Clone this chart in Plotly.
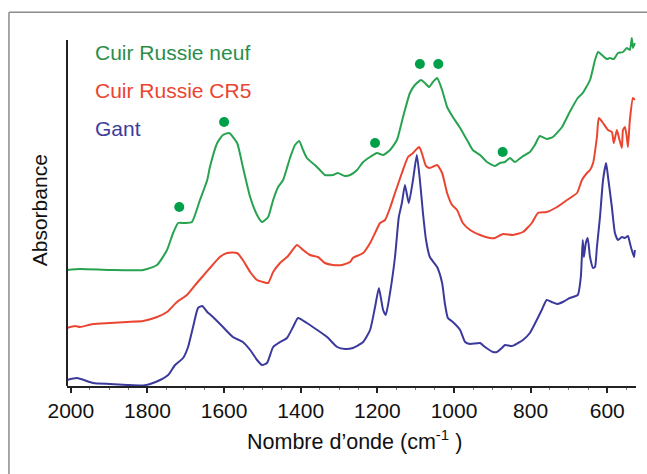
import plotly.graph_objects as go

# FTIR spectra (2000-525 cm-1), absorbance in arbitrary units, curves offset vertically
wn_neuf = [2010, 1976, 1898, 1811, 1775, 1749, 1733, 1720, 1702, 1684, 1663, 1644, 1637, 1618,
           1603, 1587, 1566, 1551, 1532, 1514, 1501, 1485, 1472, 1459, 1446, 1428, 1415, 1404,
           1394, 1384, 1363, 1350, 1337, 1316, 1303, 1285, 1271, 1253, 1237, 1219, 1201, 1185,
           1167, 1149, 1133, 1115, 1102, 1086, 1076, 1065, 1055, 1044, 1031, 1018, 1003, 984,
           966, 951, 932, 914, 893, 880, 867, 854, 841, 823, 802, 789, 776, 758, 742, 718, 698,
           677, 664, 645, 632, 624, 614, 601, 593, 583, 572, 559, 549, 541, 536, 533, 528]
abs_neuf = [1.16, 1.17, 1.16, 1.16, 1.21, 1.36, 1.53, 1.63, 1.63, 1.64, 1.86, 2.06, 2.19, 2.43,
            2.51, 2.53, 2.43, 2.19, 1.89, 1.71, 1.64, 1.69, 1.86, 1.99, 2.06, 2.28, 2.41, 2.45,
            2.36, 2.28, 2.21, 2.16, 2.11, 2.11, 2.13, 2.10, 2.11, 2.16, 2.24, 2.29, 2.33, 2.31,
            2.36, 2.46, 2.69, 2.93, 3.01, 3.06, 3.03, 2.99, 3.04, 3.08, 2.96, 2.79, 2.69, 2.58,
            2.46, 2.36, 2.31, 2.24, 2.20, 2.23, 2.24, 2.28, 2.24, 2.29, 2.34, 2.41, 2.50, 2.47,
            2.49, 2.59, 2.74, 2.88, 2.93, 3.06, 3.26, 3.34, 3.31, 3.27, 3.28, 3.27, 3.33, 3.34,
            3.38, 3.36, 3.48, 3.38, 3.43]

wn_cr5 = [2010, 1989, 1976, 1942, 1898, 1853, 1811, 1775, 1749, 1723, 1697, 1671, 1655, 1637,
          1611, 1592, 1566, 1551, 1532, 1514, 1498, 1485, 1472, 1454, 1433, 1410, 1394, 1376,
          1355, 1337, 1316, 1292, 1271, 1264, 1237, 1219, 1206, 1193, 1180, 1167, 1154, 1136,
          1120, 1107, 1091, 1084, 1073, 1063, 1044, 1031, 1018, 1005, 992, 977, 958, 932, 906,
          893, 872, 846, 820, 797, 781, 758, 731, 705, 679, 666, 653, 645, 637, 627, 622, 611,
          598, 588, 583, 575, 570, 562, 559, 554, 549, 546, 541, 533, 528]
abs_cr5 = [0.58, 0.60, 0.59, 0.62, 0.63, 0.64, 0.65, 0.69, 0.74, 0.84, 0.91, 1.03, 1.10, 1.18,
           1.29, 1.33, 1.33, 1.26, 1.14, 1.06, 1.04, 1.03, 1.14, 1.23, 1.30, 1.41, 1.36, 1.31,
           1.29, 1.23, 1.21, 1.21, 1.24, 1.28, 1.33, 1.43, 1.53, 1.63, 1.66, 1.78, 1.93, 2.13,
           2.29, 2.33, 2.39, 2.33, 2.20, 2.18, 2.21, 2.13, 1.93, 1.81, 1.76, 1.63, 1.56, 1.51,
           1.48, 1.48, 1.52, 1.51, 1.54, 1.63, 1.73, 1.74, 1.79, 1.86, 1.93, 2.06, 2.13, 2.16,
           2.23, 2.49, 2.68, 2.63, 2.56, 2.54, 2.43, 2.56, 2.49, 2.38, 2.56, 2.59, 2.49, 2.39,
           2.66, 2.88, 2.86]

wn_gant = [2010, 1984, 1942, 1898, 1853, 1811, 1793, 1767, 1746, 1728, 1707, 1694, 1681, 1668,
           1657, 1644, 1629, 1603, 1577, 1551, 1532, 1514, 1501, 1488, 1472, 1454, 1436, 1420,
           1407, 1384, 1357, 1331, 1305, 1284, 1264, 1237, 1219, 1206, 1196, 1185, 1178, 1167,
           1154, 1144, 1136, 1128, 1118, 1107, 1097, 1089, 1081, 1073, 1063, 1044, 1031, 1024,
           1016, 1003, 984, 971, 958, 932, 919, 898, 888, 875, 867, 849, 833, 820, 802, 784,
           771, 758, 745, 731, 716, 698, 677, 669, 664, 661, 656, 651, 645, 637, 632, 627, 619,
           611, 603, 598, 588, 580, 572, 562, 554, 546, 541, 536, 530, 528]
abs_gant = [0.06, 0.08, 0.03, 0.02, 0.01, 0.005, 0.02, 0.06, 0.11, 0.21, 0.28, 0.39, 0.59, 0.78,
            0.80, 0.74, 0.69, 0.59, 0.49, 0.44, 0.36, 0.26, 0.21, 0.23, 0.39, 0.44, 0.48, 0.59,
            0.68, 0.63, 0.56, 0.49, 0.39, 0.37, 0.38, 0.44, 0.56, 0.79, 0.98, 0.76, 0.71, 0.93,
            1.29, 1.69, 1.83, 2.01, 1.83, 2.06, 2.31, 2.06, 1.73, 1.46, 1.29, 1.19, 1.03, 0.83,
            0.68, 0.64, 0.56, 0.44, 0.42, 0.43, 0.39, 0.34, 0.34, 0.38, 0.41, 0.40, 0.43, 0.46,
            0.53, 0.66, 0.76, 0.86, 0.84, 0.82, 0.84, 0.88, 0.91, 1.09, 1.46, 1.29, 1.43, 1.48,
            1.29, 1.18, 1.19, 1.39, 1.69, 2.06, 2.23, 2.09, 1.79, 1.53, 1.46, 1.49, 1.48, 1.50,
            1.43, 1.36, 1.29, 1.36]

# Characteristic bands flagged on the new leather spectrum
band_wn = [1717, 1600, 1206, 1089, 1041, 873]
band_abs = [1.79, 2.64, 2.43, 3.22, 3.22, 2.34]

labels = ["Cuir Russie neuf", "Cuir Russie CR5", "Gant"]
line_colors = ["#27a350", "#ea4530", "#3b3a9c"]
text_colors = ["#2b8e4a", "#ea4530", "#3d3c9c"]

xticks = [2000, 1800, 1600, 1400, 1200, 1000, 800, 600]

FONT = "Arial, Liberation Sans, Helvetica, sans-serif"

fig = go.Figure()
for wn, ab, col in [(wn_neuf, abs_neuf, line_colors[0]),
                    (wn_cr5, abs_cr5, line_colors[1]),
                    (wn_gant, abs_gant, line_colors[2])]:
    fig.add_trace(go.Scatter(x=wn, y=ab, mode="lines",
                             line=dict(color=col, width=2, shape="spline", smoothing=0.5),
                             showlegend=False, hoverinfo="skip"))

fig.add_trace(go.Scatter(x=band_wn, y=band_abs, mode="markers",
                         marker=dict(color="#00a04a", size=10, line=dict(width=0)),
                         showlegend=False, hoverinfo="skip"))

# series labels
for i, (lab, col) in enumerate(zip(labels, text_colors)):
    fig.add_annotation(text=lab, xref="paper", yref="paper", x=0.045, y=0.938 - i * 0.107,
                       xanchor="left", yanchor="middle", showarrow=False,
                       font=dict(family=FONT, size=21, color=col))

# axis titles
fig.add_annotation(text="Nombre d’onde (cm<sup>-1</sup> )", xref="paper", yref="paper",
                   x=0.506, y=-0.152, xanchor="center", yanchor="middle", showarrow=False,
                   font=dict(family=FONT, size=21.5, color="#111111"))
fig.add_annotation(text="Absorbance", xref="paper", yref="paper", x=-0.049, y=0.494,
                   textangle=-90, xanchor="center", yanchor="middle", showarrow=False,
                   font=dict(family=FONT, size=21, color="#111111"))

# vertical axis line and outer frame
fig.add_shape(type="line", xref="paper", yref="paper", x0=0, x1=0, y0=0, y1=0.972,
              line=dict(color="#222222", width=2))
fig.add_shape(type="line", xref="paper", yref="paper", x0=-0.102, x1=-0.102, y0=-0.3, y1=1.05,
              line=dict(color="#8c8c8c", width=1.5))
fig.add_shape(type="line", xref="paper", yref="paper", x0=-0.102, x1=1.1, y0=1.05, y1=1.05,
              line=dict(color="#8c8c8c", width=1.5))

fig.update_layout(
    width=647, height=474,
    margin=dict(l=67, r=11, t=30, b=88),
    paper_bgcolor="white", plot_bgcolor="white",
    xaxis=dict(range=[2010, 525], tickvals=xticks, ticktext=[str(t) for t in xticks],
               showgrid=False, zeroline=False, showline=True, linecolor="#222222", linewidth=2,
               ticks="outside", ticklen=5, tickwidth=1.5, tickcolor="#222222",
               tickfont=dict(family=FONT, size=21, color="#111111"),
               minor=dict(dtick=50, tick0=0, ticks="outside", ticklen=2, tickwidth=1,
                          tickcolor="#777777")),
    yaxis=dict(range=[0, 3.56], showgrid=False, zeroline=False, showline=False,
               showticklabels=False, ticks=""),
)

fig.write_html("out.html")
